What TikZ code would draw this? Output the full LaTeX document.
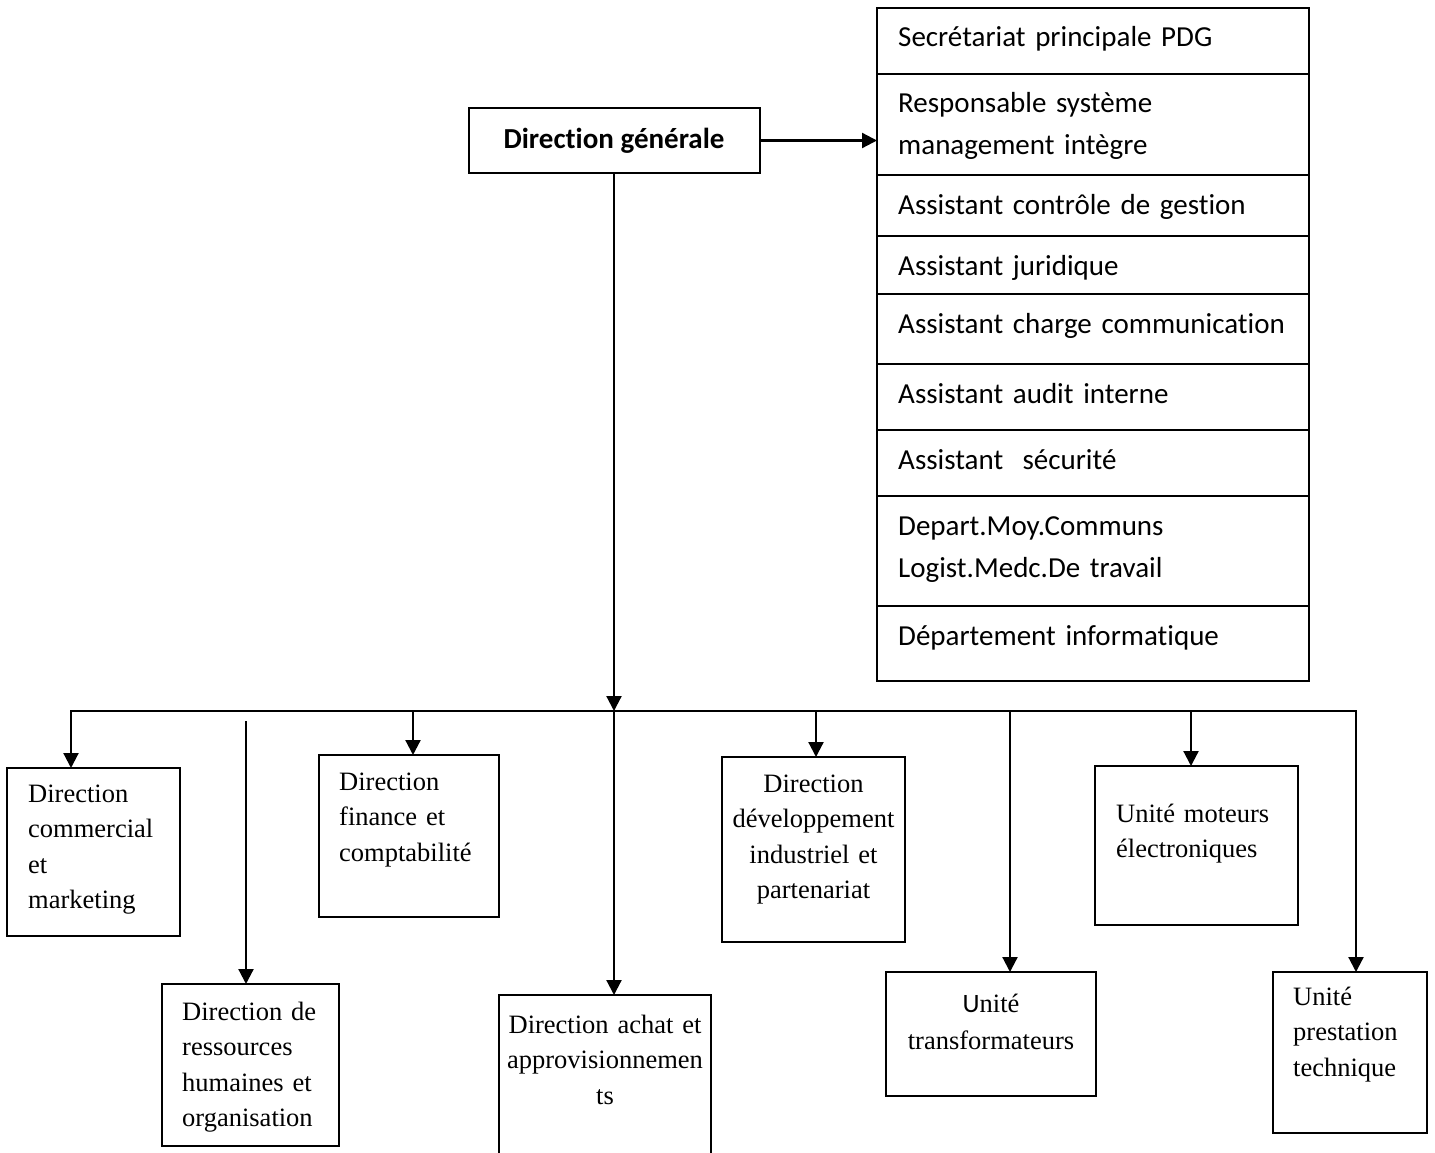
\documentclass[tikz,border=0pt]{standalone}
\usepackage{fontspec}
\setmainfont{Liberation Serif}
\newfontfamily\calib{Carlito}[Ligatures=NoCommon]
\usetikzlibrary{arrows.meta}

\begin{document}
\begin{tikzpicture}[x=1pt,y=-1pt,
  frame/.style={draw, line width=2pt, inner sep=0pt, outer sep=0pt, anchor=north west},
  celltext/.style={anchor=base west, inner sep=0pt, align=left, text width=400pt,
    font=\calib\fontsize{29}{42}\selectfont},
  boxtext/.style={inner sep=0pt, font=\fontsize{26.5}{35.5}\selectfont},
  lefttext/.style={boxtext, anchor=base west, align=left, text width=#1},
  centertext/.style={boxtext, anchor=base, align=center, text width=#1},
  link/.style={line width=2.2pt},
  tip/.tip={Triangle[length=15pt,width=15pt]},
  arr/.style={link, -tip},
]
\useasboundingbox (0,0) rectangle (1435,1153);
\clip (0,0) rectangle (1435,1153);

% General management
\node[draw, line width=2pt, minimum width=291pt, minimum height=65pt, inner sep=0pt,
  font=\calib\bfseries\fontsize{29}{35}\selectfont] (dg) at (614,140.5) {Direction générale};

% Staff column attached to the general management
\node[frame, minimum width=432pt, minimum height=66pt]  (r1) at (877,8)   {};
\node[frame, minimum width=432pt, minimum height=101pt] (r2) at (877,74)  {};
\node[frame, minimum width=432pt, minimum height=61pt]  (r3) at (877,175) {};
\node[frame, minimum width=432pt, minimum height=58pt]  (r4) at (877,236) {};
\node[frame, minimum width=432pt, minimum height=70pt]  (r5) at (877,294) {};
\node[frame, minimum width=432pt, minimum height=66pt]  (r6) at (877,364) {};
\node[frame, minimum width=432pt, minimum height=66pt]  (r7) at (877,430) {};
\node[frame, minimum width=432pt, minimum height=110pt] (r8) at (877,496) {};
\node[frame, minimum width=432pt, minimum height=75pt]  (r9) at (877,606) {};

\node[celltext] (t1) at (898,47)  {Secrétariat principale PDG};
\node[celltext] (t2) at (898,113) {Responsable système\\management intègre};
\node[celltext] (t3) at (898,214) {Assistant contrôle de gestion};
\node[celltext] (t4) at (898,275) {Assistant juridique};
\node[celltext] (t5) at (898,333) {Assistant charge communication};
\node[celltext] (t6) at (898,403) {Assistant audit interne};
\node[celltext] (t7) at (898,469) {Assistant\ \ sécurité};
\node[celltext] (t8) at (898,535) {Depart.Moy.Communs\\Logist.Medc.De travail};
\node[celltext] (t9) at (898,645) {Département informatique};

% Operational directions and units
\node[frame, minimum width=173pt, minimum height=168pt] (com)   at (7,768)    {};
\node[frame, minimum width=177pt, minimum height=162pt] (rh)    at (162,984)  {};
\node[frame, minimum width=180pt, minimum height=162pt] (fin)   at (319,755)  {};
\node[frame, minimum width=212pt, minimum height=220pt] (achat) at (499,995)  {};
\node[frame, minimum width=183pt, minimum height=185pt] (dev)   at (722,757)  {};
\node[frame, minimum width=210pt, minimum height=124pt] (trans) at (886,972)  {};
\node[frame, minimum width=203pt, minimum height=159pt] (mot)   at (1095,766) {};
\node[frame, minimum width=154pt, minimum height=161pt] (pres)  at (1273,972) {};

\node[lefttext=150pt] (comT) at (28,802) {Direction\\commercial\\et\\marketing};
\node[lefttext=155pt] (rhT) at (182,1020) {Direction de\\ressources\\humaines et\\organisation};
\node[lefttext=158pt] (finT) at (339,790) {Direction\\finance et\\comptabilité};
\node[centertext=212pt] (achatT) at (605,1033) {Direction achat et\\approvisionnemen\\ts};
\node[centertext=183pt] (devT) at (813.5,792) {Direction\\développement\\industriel et\\partenariat};
\node[centertext=210pt, font=\fontsize{26.5}{37}\selectfont] (transT) at (991,1012) {{\calib U}nité\\transformateurs};
\node[lefttext=180pt] (motT) at (1116,822) {Unité moteurs\\électroniques};
\node[lefttext=130pt] (presT) at (1293,1005) {Unité\\prestation\\technique};

% Bus and branch points
\coordinate (hub) at (614,711);
\coordinate (bL) at (71,711);
\coordinate (bR) at (1356,711);
\coordinate (bFin) at (413,711);
\coordinate (bDev) at (816,711);
\coordinate (bTrans) at (1010,711);
\coordinate (bMot) at (1191,711);
\coordinate (rhStart) at (246,721);

% Connectors
\draw[arr] (dg.east) -- (dg.east -| r2.west);
\draw[arr] (dg.south) -- (hub);
\draw[link, tip-tip] (bL |- com.north) -- (bL) -- (bR) -- (bR |- pres.north);
\draw[arr] (hub) -- (hub |- achat.north);
\draw[arr] (bFin) -- (bFin |- fin.north);
\draw[arr] (bDev) -- (bDev |- dev.north);
\draw[arr] (bTrans) -- (bTrans |- trans.north);
\draw[arr] (bMot) -- (bMot |- mot.north);
\draw[arr] (rhStart) -- (rhStart |- rh.north);
\end{tikzpicture}
\end{document}
